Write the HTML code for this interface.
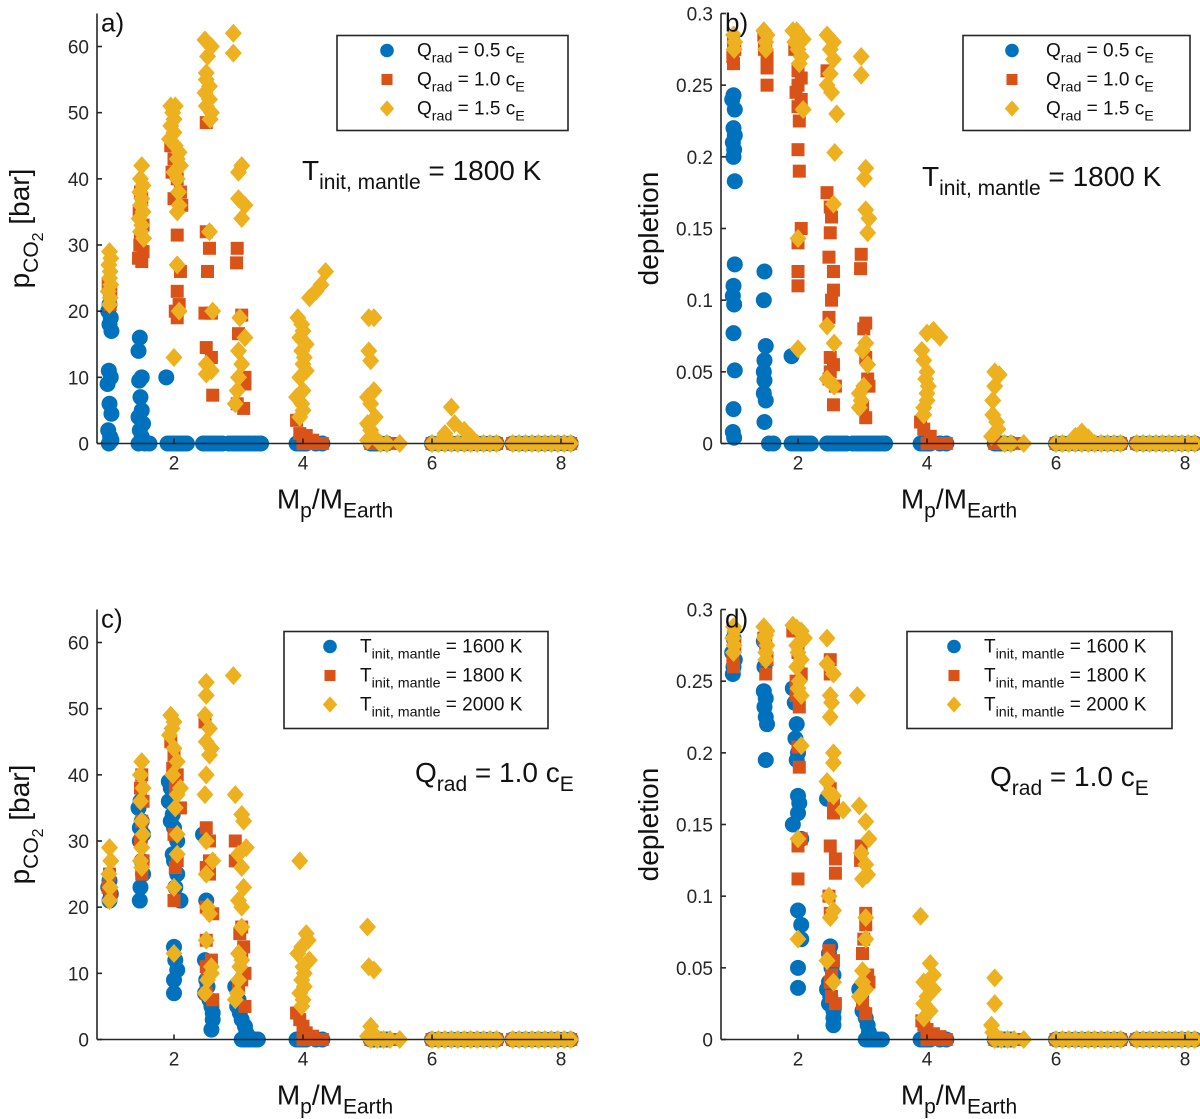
<!DOCTYPE html>
<html><head><meta charset="utf-8"><style>
html,body{margin:0;padding:0;background:#fff;}
svg{display:block;font-family:"Liberation Sans",Arial,sans-serif;}
</style></head><body>
<svg id="fig" width="1200" height="1119" viewBox="0 0 1200 1119" xmlns="http://www.w3.org/2000/svg">
<g id="layer"></g>
</svg>
<script>
// ---------- data (mass in Earth masses, pCO2 in bar / depletion fraction) ----------
const xTicks = [2, 4, 6, 8];
const yTicksP = [0, 10, 20, 30, 40, 50, 60];
const yTicksD = [0, 0.05, 0.1, 0.15, 0.2, 0.25, 0.3];
const yTickLabelsD = ["0", "0.05", "0.1", "0.15", "0.2", "0.25", "0.3"];
const farMass = [6.0,6.1,6.2,6.3,6.4,6.5,6.6,6.7,6.8,6.9,7.0,7.25,7.35,7.45,7.55,7.65,7.75,7.85,7.95,8.05,8.15];
const zeroBlueTop = [1.55,1.62,1.9,1.95,2.0,2.05,2.1,2.15,2.2,2.45,2.5,2.55,2.6,2.65,2.7,2.75,2.85,2.9,2.95,3.0,3.05,3.1,3.15,3.2,3.25,3.3,3.35,3.9,3.95,4.0,4.05,4.2,4.3,5.05,5.1,5.15,5.2,5.3];
const zeroRedTop = [4.0,4.05,4.1,4.15,4.2,4.3,5.05,5.1,5.2,5.3,5.4];
const zeroYellowTop = [5.2,5.3,5.5];
const zeroBlueBot = [3.05,3.1,3.15,3.2,3.25,3.3,3.9,3.95,4.0,4.05,4.2,4.3,5.05,5.1,5.2,5.3];
const zeroRedBot = [4.0,4.05,4.1,4.15,4.2,4.3,5.05,5.1,5.2,5.3,5.4];
const zeroYellowBot = [5.05,5.15,5.25,5.35,5.5];

const aBlue = [[1.0,21],[0.98,20],[1.02,19],[1.0,18],[1.03,17],[0.99,11],[1.02,10],[0.97,9],[1.0,6],[1.03,4.5],[0.98,2],[1.01,1],[1.03,0.5],[0.99,0],[1.47,16],[1.45,14],[1.5,10],[1.46,9.5],[1.48,7],[1.5,5],[1.45,4],[1.52,3],[1.47,2],[1.5,1],[1.45,0],[1.88,10]];
const aRed = [[1.0,22],[1.02,23],[0.98,24],[1.01,21],[1.48,38],[1.5,37],[1.46,35],[1.52,33],[1.48,31],[1.45,28],[1.5,27.5],[1.47,30],[1.52,29],[1.95,45],[2.0,43],[1.97,41],[2.05,40],[2.1,38],[2.0,37],[2.12,36],[2.05,31.5],[2.1,26],[2.05,23],[2.08,21],[2.02,20],[2.05,19],[2.5,48.5],[2.5,32],[2.55,29.5],[2.52,26],[2.48,19.7],[2.58,19.7],[2.5,14.5],[2.58,13],[2.6,7.3],[2.98,29.5],[2.97,27.3],[3.05,19.4],[3.0,16.6],[3.1,10],[3.08,5.3],[2.98,6],[3.1,9],[3.9,3.5],[3.95,1.5],[4.05,1.2],[4.15,0.5]];
const aYellow = [[1.0,29],[1.02,28],[0.99,27],[1.01,26],[1.0,25],[1.02,24],[0.98,23],[1.01,22],[1.0,21],[1.5,42],[1.48,40],[1.52,39],[1.47,38],[1.5,37],[1.48,36],[1.52,35],[1.46,34],[1.5,33],[1.48,32],[1.53,31],[1.95,51],[2.02,51],[1.98,50],[2.0,49],[1.95,48],[2.0,47],[1.93,46],[2.02,45],[2.08,44],[2.05,43],[2.1,42],[2.0,41],[2.05,40],[2.07,38],[2.08,36],[2.05,35],[2.05,27],[2.08,20],[2.0,13],[2.48,61],[2.58,60],[2.52,58.5],[2.5,56],[2.5,55],[2.55,54],[2.48,53],[2.55,52],[2.5,51],[2.58,50],[2.56,49],[2.55,32],[2.6,20],[2.5,12],[2.58,11],[2.5,10.5],[2.92,62],[2.92,59],[3.05,42],[3.0,41],[3.0,37],[3.1,36],[3.05,34],[3.02,19],[3.1,16],[3.0,14],[3.05,12],[3.0,10],[2.98,8],[2.95,6],[4.35,26],[4.28,24],[4.2,23],[4.1,22],[3.92,19],[3.98,18],[4.0,17],[3.95,16],[4.05,15],[3.98,14],[4.02,13],[4.0,12],[4.05,11],[3.95,10],[4.0,8],[3.9,7],[3.98,6],[4.0,5],[3.95,4],[5.02,19],[5.1,19],[5.02,14],[5.05,12.5],[5.1,8],[5.0,7],[5.05,6],[5.12,4],[5.0,3],[5.05,2],[5.1,1],[5.0,0.5],[6.3,5.5],[6.35,3],[6.5,2],[6.2,1.5],[6.6,1]];

const bBlue = [[1.0,0.243],[0.98,0.24],[1.02,0.233],[1.0,0.22],[1.02,0.215],[0.99,0.21],[1.01,0.205],[1.0,0.2],[1.02,0.183],[1.02,0.125],[1.0,0.11],[0.99,0.103],[1.01,0.097],[1.0,0.077],[1.02,0.051],[1.0,0.024],[0.99,0.008],[1.01,0.004],[1.48,0.12],[1.47,0.1],[1.5,0.068],[1.48,0.058],[1.47,0.05],[1.48,0.044],[1.47,0.035],[1.5,0.03],[1.48,0.015],[1.9,0.061]];
const bRed = [[1.0,0.28],[1.02,0.275],[0.99,0.27],[1.0,0.265],[1.47,0.285],[1.5,0.28],[1.48,0.275],[1.52,0.27],[1.52,0.262],[1.52,0.25],[1.95,0.275],[2.0,0.26],[2.05,0.255],[2.0,0.25],[1.97,0.245],[2.05,0.24],[2.0,0.235],[2.02,0.225],[2.0,0.205],[2.02,0.19],[2.05,0.15],[2.0,0.14],[2.0,0.12],[2.0,0.11],[2.45,0.26],[2.45,0.175],[2.5,0.165],[2.52,0.158],[2.5,0.147],[2.48,0.13],[2.55,0.12],[2.55,0.107],[2.52,0.1],[2.48,0.088],[2.5,0.06],[2.55,0.055],[2.5,0.05],[2.48,0.045],[2.58,0.04],[2.55,0.027],[2.98,0.132],[2.97,0.122],[3.05,0.084],[3.02,0.08],[3.05,0.06],[3.08,0.045],[3.1,0.04],[3.05,0.018],[3.0,0.025],[3.9,0.015],[3.95,0.01],[4.05,0.005]];
const bYellow = [[1.0,0.285],[1.02,0.28],[1.01,0.275],[1.47,0.288],[1.52,0.285],[1.5,0.28],[1.5,0.275],[1.92,0.288],[1.98,0.288],[2.02,0.285],[2.08,0.282],[1.95,0.28],[2.0,0.275],[2.05,0.27],[2.02,0.265],[2.08,0.233],[2.0,0.143],[2.0,0.066],[2.45,0.285],[2.55,0.28],[2.5,0.275],[2.55,0.268],[2.5,0.258],[2.45,0.25],[2.52,0.245],[2.6,0.23],[2.57,0.203],[2.55,0.167],[2.45,0.082],[2.56,0.07],[2.45,0.045],[2.56,0.04],[2.98,0.27],[2.98,0.257],[3.05,0.192],[3.03,0.185],[3.05,0.163],[3.1,0.157],[3.08,0.147],[3.05,0.07],[3.0,0.065],[3.08,0.055],[3.02,0.04],[2.95,0.035],[2.98,0.03],[2.95,0.025],[4.1,0.079],[4.0,0.077],[4.2,0.074],[3.92,0.065],[3.95,0.058],[4.0,0.05],[3.98,0.045],[4.02,0.04],[4.0,0.035],[4.0,0.03],[3.95,0.025],[3.95,0.02],[5.05,0.05],[5.12,0.048],[5.05,0.04],[5.02,0.03],[5.02,0.02],[5.08,0.015],[5.1,0.01],[5.0,0.005],[6.4,0.008],[6.3,0.005],[6.5,0.004]];

const cBlue = [[1.0,24],[0.98,23],[1.02,22],[1.0,21],[1.48,36],[1.45,35],[1.5,33],[1.47,32],[1.52,31],[1.47,30],[1.5,27],[1.52,25],[1.48,23],[1.47,21],[1.92,39],[1.95,38],[1.92,36],[1.98,34],[1.95,33],[2.0,32],[2.05,30],[1.98,28],[2.0,27],[2.05,25],[2.02,23],[2.1,21],[2.0,14],[2.02,12],[2.05,10.5],[2.0,9],[2.0,7],[2.45,31],[2.5,21],[2.48,12],[2.55,11],[2.5,9],[2.52,8],[2.48,7],[2.55,6],[2.58,5],[2.6,4],[2.6,3],[2.58,1.5],[2.95,8],[3.0,6],[2.98,5],[3.02,4],[3.05,3],[3.1,2],[3.12,1],[3.15,0.5]];
const cRed = [[1.0,25],[0.98,23],[1.02,22],[1.5,40],[1.48,38],[1.52,36],[1.5,33],[1.48,30],[1.52,27],[1.5,25],[1.95,45],[2.0,43],[1.98,41],[2.05,40],[2.02,38],[2.1,35],[2.0,31],[2.05,27],[2.02,26],[2.0,21],[2.48,48],[2.5,32],[2.55,30],[2.55,27],[2.5,26],[2.55,25],[2.5,20],[2.6,19],[2.5,15],[2.58,12],[2.5,11],[2.52,10],[2.5,7],[2.6,6],[2.95,30],[2.95,27],[3.05,17],[3.02,16],[3.08,14],[3.05,13],[3.1,10],[3.05,9],[3.0,8],[3.1,5],[3.9,4],[3.95,3],[4.0,2],[4.05,1],[4.15,0.5]];
const cYellow = [[1.0,29],[1.02,27],[0.99,25],[1.01,23],[1.0,21],[1.5,42],[1.48,40],[1.52,38],[1.48,36],[1.5,33],[1.52,31],[1.5,29],[1.48,27],[1.5,26],[1.95,49],[2.0,48],[1.97,47],[1.93,46],[2.0,44],[2.05,42],[1.98,40],[2.1,38],[2.05,37],[2.02,35],[2.05,31],[2.05,28],[2.0,23],[2.0,13],[2.5,54],[2.5,52],[2.48,49],[2.55,47],[2.5,45],[2.58,44],[2.55,43],[2.5,40],[2.48,37],[2.5,30],[2.6,27],[2.5,25],[2.52,20],[2.55,19],[2.5,15],[2.58,11],[2.48,7],[2.52,9],[2.58,10],[2.92,55],[2.95,37],[3.05,34],[3.08,33],[3.12,29],[3.0,28],[3.05,26],[3.08,23],[3.0,21],[3.05,20],[3.05,17],[3.0,13],[3.05,12],[3.02,11],[3.0,9],[2.95,6],[2.98,7],[3.95,27],[4.05,16],[4.08,15],[3.98,14],[3.92,13],[4.1,12],[4.0,11],[4.02,10],[3.98,9],[4.02,8],[3.95,7],[4.0,6],[3.98,5],[5.0,17],[5.02,11],[5.1,10.5],[5.05,2],[5.08,1],[5.0,0.5]];

const dBlue = [[1.0,0.28],[0.98,0.27],[1.02,0.265],[1.0,0.26],[0.99,0.255],[1.47,0.278],[1.48,0.26],[1.47,0.243],[1.5,0.238],[1.48,0.232],[1.5,0.225],[1.52,0.22],[1.5,0.195],[1.92,0.245],[1.95,0.235],[1.98,0.22],[1.96,0.21],[2.0,0.2],[1.98,0.195],[2.0,0.17],[2.02,0.165],[2.0,0.158],[1.92,0.15],[2.05,0.14],[2.0,0.09],[2.05,0.08],[2.05,0.07],[2.0,0.05],[2.0,0.036],[2.45,0.168],[2.5,0.065],[2.48,0.06],[2.52,0.05],[2.55,0.045],[2.48,0.04],[2.45,0.035],[2.5,0.03],[2.48,0.025],[2.55,0.02],[2.55,0.015],[2.55,0.01],[2.95,0.035],[2.98,0.03],[3.0,0.02],[3.05,0.015],[3.08,0.01],[3.1,0.005],[3.12,0.002]];
const dRed = [[1.0,0.28],[1.02,0.275],[0.99,0.265],[1.0,0.26],[1.47,0.28],[1.5,0.275],[1.52,0.265],[1.5,0.255],[1.92,0.285],[2.0,0.27],[2.05,0.255],[1.97,0.25],[1.97,0.24],[2.02,0.232],[2.0,0.204],[2.02,0.19],[2.05,0.14],[2.0,0.135],[2.0,0.112],[2.5,0.265],[2.5,0.255],[2.5,0.175],[2.55,0.165],[2.55,0.158],[2.5,0.135],[2.58,0.126],[2.58,0.116],[2.48,0.1],[2.5,0.088],[2.48,0.062],[2.55,0.055],[2.52,0.045],[2.5,0.04],[2.52,0.03],[2.58,0.025],[2.98,0.135],[2.97,0.125],[3.05,0.088],[3.05,0.08],[3.02,0.07],[3.0,0.06],[3.08,0.045],[3.1,0.04],[3.0,0.025],[3.05,0.018],[3.92,0.013],[3.95,0.01],[4.0,0.007],[4.1,0.004],[4.2,0.002]];
const dYellow = [[1.0,0.288],[1.02,0.285],[0.99,0.28],[1.01,0.275],[1.0,0.27],[1.47,0.288],[1.52,0.285],[1.5,0.282],[1.48,0.28],[1.52,0.275],[1.5,0.27],[1.5,0.265],[1.92,0.289],[1.98,0.287],[2.05,0.285],[2.1,0.28],[1.98,0.275],[2.0,0.27],[2.05,0.265],[1.98,0.26],[2.02,0.25],[2.0,0.245],[2.05,0.24],[2.05,0.205],[2.0,0.14],[2.0,0.07],[2.45,0.28],[2.45,0.262],[2.55,0.255],[2.5,0.24],[2.52,0.235],[2.5,0.225],[2.55,0.2],[2.55,0.193],[2.45,0.18],[2.48,0.172],[2.55,0.17],[2.7,0.16],[2.48,0.1],[2.55,0.09],[2.5,0.085],[2.45,0.055],[2.55,0.04],[2.92,0.24],[2.95,0.163],[3.05,0.152],[3.1,0.14],[2.98,0.13],[3.05,0.122],[3.08,0.115],[3.0,0.112],[3.05,0.085],[3.05,0.07],[3.0,0.048],[3.0,0.04],[3.05,0.035],[2.95,0.03],[3.9,0.086],[4.05,0.053],[4.1,0.045],[3.95,0.04],[4.1,0.035],[4.0,0.03],[3.95,0.025],[4.05,0.02],[3.95,0.015],[5.05,0.043],[5.05,0.025],[5.0,0.01],[5.02,0.005]];

// ---------- drawing ----------
const NS = "http://www.w3.org/2000/svg";
const layer = document.getElementById("layer");
const COL = {blue:"#0072BD", red:"#D95319", yellow:"#EDB120"};
function mk(tag, attrs, parent){
  const e = document.createElementNS(NS, tag);
  for (const k in attrs) e.setAttribute(k, attrs[k]);
  (parent||layer).appendChild(e);
  return e;
}
function makeX(left){ return v => left + 77 + (v - 2) * 64.5; }

function marker(g, kind, cx, cy, small){
  const s = small ? 0.85 : 1;
  let e;
  if (kind === "blue") {
    e = mk("circle", {cx:cx, cy:cy, r:8*s, fill:COL.blue}, g);
  } else if (kind === "red") {
    const h = 6.5*s;
    e = mk("rect", {x:cx-h, y:cy-h, width:2*h, height:2*h, fill:COL.red}, g);
  } else {
    const w = 8.5*s, hh = 9.5*s;
    e = mk("polygon", {points:`${cx},${cy-hh} ${cx+w},${cy} ${cx},${cy+hh} ${cx-w},${cy}`, fill:COL.yellow}, g);
  }
  return e;
}

function subText(g, x, y, parts, size, anchor){
  const t = mk("text", {x:x, y:y, "font-size":size, fill:"#111", "text-anchor":anchor||"start"}, g);
  let shift = 0;
  parts.forEach(p => {
    const ts = document.createElementNS(NS, "tspan");
    const target = p.sub ? size*0.32 : 0;
    ts.setAttribute("dy", target - shift);
    shift = target;
    if (p.sub) ts.setAttribute("font-size", size*0.75);
    ts.textContent = p.t;
    t.appendChild(ts);
  });
  return t;
}

function panel(opt){
  const g = mk("g", {});
  
  
  const L = opt.left, B = opt.bottom, T = B - 430;
  const X = makeX(L);
  const pxPer = opt.depl ? 430/0.3 : 397/60;
  const Y = v => B - v * pxPer;
  const series = [["blue", opt.blue, opt.zb], ["red", opt.red, opt.zr], ["yellow", opt.yellow, opt.zy]];
  series.forEach(([k, pts, zeros]) => {
    const sg = mk("g", {}, g);
    
    
    zeros.concat(farMass).forEach(m => {
      const e = marker(sg, k, X(m), Y(0));
      
      
    });
    pts.forEach(p => {
      const e = marker(sg, k, X(p[0]), Y(p[1]));
      
      
    });
  });
  const ax = mk("g", {stroke:"#262626", "stroke-width":1.6, fill:"none"}, g);
  
  
  mk("line", {x1:L, y1:T, x2:L, y2:B}, ax);
  mk("line", {x1:L, y1:B, x2:L+477, y2:B}, ax);
  xTicks.forEach(v => {
    mk("line", {x1:X(v), y1:B, x2:X(v), y2:B-5}, ax);
    const t = mk("text", {x:X(v), y:B+26, "font-size":19, "text-anchor":"middle", fill:"#262626"}, g);
    
    
    t.textContent = v;
  });
  const yt = opt.depl ? yTicksD : yTicksP;
  yt.forEach((v, i) => {
    mk("line", {x1:L, y1:Y(v), x2:L+5, y2:Y(v)}, ax);
    const t = mk("text", {x:L-8, y:Y(v)+7, "font-size":19, "text-anchor":"end", fill:"#262626"}, g);
    
    
    t.textContent = opt.depl ? yTickLabelsD[i] : v;
  });
  const pl = mk("text", {x:L+4, y:T+18, "font-size":26, fill:"#111"}, g);
  
  
  pl.textContent = opt.letter;
  const xl = subText(g, L+238, B+65, [{t:"M"},{t:"p",sub:1},{t:"/M"},{t:"Earth",sub:1}], 28, "middle");
  
  
  const yg = mk("g", {transform:`translate(${opt.depl ? L-63 : L-68},${T+215}) rotate(-90)`}, g);
  let yl;
  if (opt.depl) {
    yl = mk("text", {x:0, y:0, "font-size":28, "text-anchor":"middle", fill:"#111"}, yg);
    yl.textContent = "depletion";
  } else {
    yl = subText(yg, 0, 0, [{t:"p"},{t:"CO",sub:1},{t:"2",sub:2},{t:" [bar]"}], 28, "middle");
    const spans = yl.querySelectorAll("tspan");
    spans[2].setAttribute("dy", 5); spans[2].setAttribute("font-size", 16);
    spans[3].setAttribute("dy", -14);
  }
  
  
  const lg = mk("g", {}, g);
  
  
  mk("rect", {x:opt.lx, y:T+22, width:opt.lw, height:opt.lh, fill:"#fff", stroke:"#262626", "stroke-width":1.6}, lg);
  opt.legend.forEach((txt, i) => {
    const cy = T + 37 + i * 29;
    const e = marker(lg, ["blue","red","yellow"][i], opt.lx + opt.mk, cy, true);
    
    
    const t = subText(lg, opt.lx + opt.tx, cy + 6, txt, 19, "start");
    
    
  });
  const an = subText(g, opt.ax, opt.ay, opt.ann, 28, "start");
  
  
}

const qLeg = v => [{t:"Q"},{t:"rad",sub:1},{t:" = " + v + " c"},{t:"E",sub:1}];
const tLeg = v => [{t:"T"},{t:"init, mantle",sub:1},{t:" = " + v + " K"}];
const tAnn = [{t:"T"},{t:"init, mantle",sub:1},{t:" = 1800 K"}];
const qAnn = [{t:"Q"},{t:"rad",sub:1},{t:" = 1.0 c"},{t:"E",sub:1}];

panel({name:"panel-a", letter:"a)", left:97, bottom:443.5, depl:false, blue:aBlue, red:aRed, yellow:aYellow, zb:zeroBlueTop, zr:zeroRedTop, zy:zeroYellowTop,
  lx:337, lw:231, lh:95, mk:50, tx:80, legend:[qLeg("0.5"),qLeg("1.0"),qLeg("1.5")], ann:tAnn, ax:302, ay:180});
panel({name:"panel-b", letter:"b)", left:721, bottom:443.5, depl:true, blue:bBlue, red:bRed, yellow:bYellow, zb:zeroBlueTop, zr:zeroRedTop, zy:zeroYellowTop,
  lx:963, lw:227, lh:95, mk:49, tx:83, legend:[qLeg("0.5"),qLeg("1.0"),qLeg("1.5")], ann:tAnn, ax:922, ay:186});
panel({name:"panel-c", letter:"c)", left:97, bottom:1039.5, depl:false, blue:cBlue, red:cRed, yellow:cYellow, zb:zeroBlueBot, zr:zeroRedBot, zy:zeroYellowBot,
  lx:284, lw:264, lh:97, mk:46, tx:76, legend:[tLeg("1600"),tLeg("1800"),tLeg("2000")], ann:qAnn, ax:415, ay:782});
panel({name:"panel-d", letter:"d)", left:721, bottom:1039.5, depl:true, blue:dBlue, red:dRed, yellow:dYellow, zb:zeroBlueBot, zr:zeroRedBot, zy:zeroYellowBot,
  lx:907, lw:265, lh:97, mk:47, tx:77, legend:[tLeg("1600"),tLeg("1800"),tLeg("2000")], ann:qAnn, ax:990, ay:786});
</script>
</body></html>
